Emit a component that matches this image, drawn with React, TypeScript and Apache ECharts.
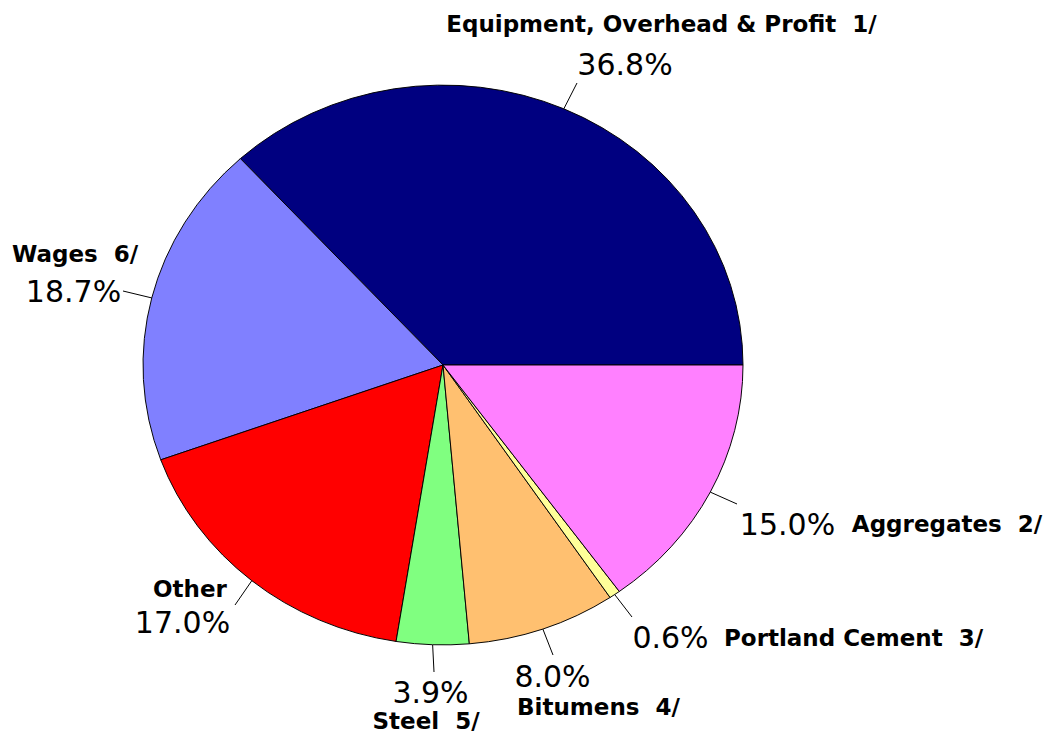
import React, { useEffect, useRef } from "react";
import * as echarts from "echarts";

// ---- data ----
const categories = [
  "Equipment, Overhead & Profit  1/",
  "Wages  6/",
  "Other",
  "Steel  5/",
  "Bitumens  4/",
  "Portland Cement  3/",
  "Aggregates  2/",
];
const shares = [36.8, 18.7, 17.0, 3.9, 8.0, 0.6, 15.0];
const sliceColors = ["#000080", "#8080FF", "#FF0000", "#80FF80", "#FFC070", "#FFFF99", "#FF80FF"];

// ---- layout (positions only) ----
const CX = 443;
const CY = 365;
const RX = 300;
const RY = 280;
const labelPos = [
  { name: [661.5, 23.5], pct: [625, 64], end: [577, 83] },
  { name: [75, 253.5], pct: [73.5, 291], end: [123, 291] },
  { name: [190, 589], pct: [182.5, 622], end: [235, 605] },
  { name: [426, 721], pct: [430.5, 692], end: [434, 672] },
  { name: [598.5, 707], pct: [552.5, 676], end: [553, 655] },
  { name: [853.5, 638], pct: [670.5, 637], end: [632, 617] },
  { name: [947, 524], pct: [787.5, 524], end: [737, 504] },
];

export default function App() {
  const ref = useRef<HTMLDivElement>(null);
  useEffect(() => {
    document.body.style.margin = "0";
    const chart = echarts.init(ref.current!, null, { renderer: "svg" });
    const total = shares.reduce((a, b) => a + b, 0);
    const cum: number[] = [];
    let acc = 0;
    shares.forEach((v) => {
      cum.push(acc);
      acc += v;
    });
    chart.setOption({
      animation: false,
      backgroundColor: "#ffffff",
      series: [
        {
          type: "custom",
          coordinateSystem: "none",
          data: shares.map((v, i) => [i, v]),
          renderItem: (params: any, api: any) => {
            const i = params.dataIndex;
            const v = api.value(1);
            const a0 = (cum[i] / total) * 2 * Math.PI;
            const a1 = ((cum[i] + v) / total) * 2 * Math.PI;
            const am = (a0 + a1) / 2;
            const sx = CX + RX * Math.cos(am);
            const sy = CY - RY * Math.sin(am);
            const L = labelPos[i];
            return {
              type: "group",
              children: [
                {
                  type: "group",
                  x: CX,
                  y: CY,
                  scaleY: RY / RX,
                  children: [
                    {
                      type: "sector",
                      shape: { cx: 0, cy: 0, r: RX, r0: 0, startAngle: -a0, endAngle: -a1, clockwise: false },
                      style: { fill: sliceColors[i], stroke: "#000000", lineWidth: 1, strokeNoScale: true },
                    },
                  ],
                },
                {
                  type: "line",
                  shape: { x1: sx, y1: sy, x2: L.end[0], y2: L.end[1] },
                  style: { stroke: "#000000", lineWidth: 1 },
                },
                {
                  type: "text",
                  x: L.name[0],
                  y: L.name[1],
                  style: {
                    text: categories[i],
                    fontFamily: "DejaVu Sans",
                    fontWeight: "bold",
                    fontSize: 23,
                    fill: "#000000",
                    align: "center",
                    verticalAlign: "middle",
                  },
                },
                {
                  type: "text",
                  x: L.pct[0],
                  y: L.pct[1],
                  style: {
                    text: v.toFixed(1) + "%",
                    fontFamily: "DejaVu Sans",
                    fontSize: 30,
                    fill: "#000000",
                    align: "center",
                    verticalAlign: "middle",
                  },
                },
              ],
            };
          },
        },
      ],
    });
    return () => chart.dispose();
  }, []);
  return <div ref={ref} style={{ position: "absolute", left: 0, top: 0, width: 1049, height: 734 }} />;
}
